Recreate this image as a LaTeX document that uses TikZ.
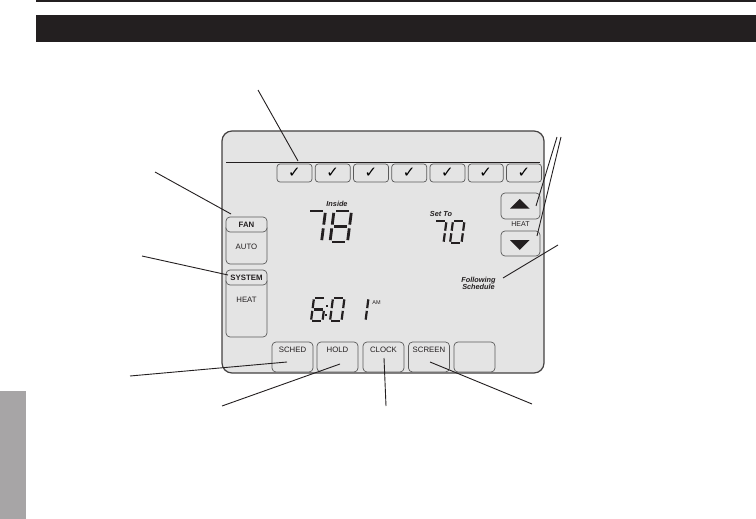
\documentclass[tikz,border=0pt]{standalone}
\usepackage{fontspec}
\setmainfont{Liberation Sans}
\newfontfamily\djv{DejaVu Sans}
\definecolor{ink}{HTML}{231F20}
\definecolor{scr}{HTML}{E4E4E4}
\definecolor{tab}{HTML}{A7A5A6}
\definecolor{edge}{HTML}{5A5A5A}
\tikzset{
  btn/.style={draw=edge, line width=0.7pt, rounded corners=4pt, fill=scr, inner sep=0pt},
  daybox/.style={btn, rounded corners=3pt, minimum width=35pt, minimum height=18pt, font=\djv\fontsize{15}{15}\selectfont},
  lbl/.style={inner sep=0pt, text=ink, font=\fontsize{7.8}{8}\selectfont},
  blbl/.style={lbl, font=\bfseries\fontsize{7.8}{8}\selectfont},
  ilbl/.style={lbl, font=\bfseries\itshape\fontsize{7.3}{8}\selectfont},
  leader/.style={draw=ink, line width=0.9pt},
  segline/.style={draw=ink, line cap=butt},
}
% unit segments: a b c d e f g
\def\digseven{0.12/1/0.88/1, 1/0.94/1/0.56, 1/0.44/1/0.06}
\def\digeight{0.12/1/0.88/1, 1/0.94/1/0.56, 1/0.44/1/0.06, 0.12/0/0.88/0, 0/0.44/0/0.06, 0/0.94/0/0.56, 0.12/0.5/0.88/0.5}
\def\digzero{0.12/1/0.88/1, 1/0.94/1/0.56, 1/0.44/1/0.06, 0.12/0/0.88/0, 0/0.44/0/0.06, 0/0.94/0/0.56}
\def\digsix{0.12/1/0.88/1, 1/0.44/1/0.06, 0.12/0/0.88/0, 0/0.44/0/0.06, 0/0.94/0/0.56, 0.12/0.5/0.88/0.5}
\def\digone{1/0.94/1/0.56, 1/0.44/1/0.06}
% #1 x of bottom-left, #2 y of bottom, #3 width, #4 height, #5 slant, #6 line width, #7 digit
\newcommand\sevseg[7]{%
  \begin{scope}[shift={(#1,#2)}, x={(#3pt,0pt)}, y={(#5pt,#4pt)}]
    \foreach \sa/\sb/\sc/\sd in #7 {\draw[segline, line width=#6] (\sa,\sb) -- (\sc,\sd);}
  \end{scope}}
\begin{document}
\begin{tikzpicture}[x=1pt,y=-1pt]
\useasboundingbox (0,0) rectangle (756,519);
% page header
\draw[ink, line width=1.2pt] (36,1) -- (756,1);
\fill[ink] (36,15) rectangle (756,42);
\fill[tab] (0,391) rectangle (26,519);
% screen
\node[draw=ink!85, line width=1.2pt, fill=scr, rounded corners=10pt, minimum width=322pt, minimum height=242pt, inner sep=0pt] (screen) at (383,252) {};
\draw[ink, line width=0.9pt] (226,162) -- (540,162);
% day boxes
\foreach \i in {0,...,6} {
  \node[daybox] (day\i) at ({294.5+38.25*\i},173) {\raisebox{0.5pt}{✓}};
}
% fan / system
\node[btn, minimum width=41pt, minimum height=40pt] (auto) at (246.5,244) {};
\node[btn, minimum width=41pt, minimum height=15pt] (fan) at (246.5,224.5) {};
\node[blbl] (fanlbl) at (fan.center) {FAN};
\node[lbl] (autolbl) at (246.5,247) {AUTO};
\node[btn, minimum width=41pt, minimum height=60pt] (heatbox) at (246.5,307) {};
\node[btn, minimum width=41pt, minimum height=15pt] (system) at (246.5,277.5) {};
\node[blbl] (systemlbl) at (system.center) {SYSTEM};
\node[lbl] (heatlbl) at (246.5,300) {HEAT};
% up/down
\node[btn, minimum width=39pt, minimum height=26pt] (up) at (520.5,206) {};
\node[btn, minimum width=39pt, minimum height=25pt] (down) at (520.5,243.5) {};
\fill[ink] (510,208.5) -- (529.5,208.5) -- (519.75,199) -- cycle;
\fill[ink] (510,240) -- (529.5,240) -- (519.75,250) -- cycle;
\node[lbl, font=\fontsize{7}{8}\selectfont] (heatmode) at (520.5,224.5) {HEAT};
% bottom buttons
\foreach \n/\cx/\t in {sched/292.5/SCHED, hold/337.5/HOLD, clock/383.5/CLOCK, scrn/429/SCREEN, blank/474.5/} {
  \node[btn, minimum width=41pt, minimum height=30pt] (\n) at (\cx,357) {};
  \node[lbl] (\n lbl) at (\cx,349.5) {\t};
}
% readouts
\node[ilbl] (inside) at (337,204) {Inside};
\sevseg{304}{242}{17.5}{31}{4}{2.8pt}{\digseven}
\sevseg{330}{242}{17.5}{31}{4}{2.8pt}{\digeight}
\node[ilbl] (setto) at (441,213.5) {Set To};
\sevseg{432}{243}{11.5}{22}{3}{2.2pt}{\digseven}
\sevseg{450}{243}{11.5}{22}{3}{2.2pt}{\digzero}
\sevseg{311}{321}{11.5}{23}{3}{2.2pt}{\digsix}
\fill[ink] (326.3,305) rectangle +(2,2);
\fill[ink] (324.8,314) rectangle +(2,2);
\sevseg{330}{321}{11.5}{23}{3}{2.2pt}{\digzero}
\sevseg{354}{321}{11.5}{23}{3}{2.2pt}{\digone}
\node[lbl, font=\fontsize{5.5}{5.5}\selectfont] (am) at (376.5,302.5) {AM};
\node[ilbl, align=center] (follow) at (478.5,283.5) {Following\\[-1.5pt]Schedule};
% leaders
\coordinate (pA) at (258,90);   \coordinate (eA) at (298,161);
\coordinate (pB1) at (557,137); \coordinate (eB1) at (536,206);
\coordinate (pB2) at (561,137); \coordinate (eB2) at (537,236);
\coordinate (pC) at (155,172);  \coordinate (eC) at (231,214);
\coordinate (pD) at (142,256);  \coordinate (eD) at (228,275);
\coordinate (pE) at (558,245);  \coordinate (eE) at (503,278);
\coordinate (pF) at (130,376);  \coordinate (eF) at (287,362);
\coordinate (pG) at (222,406);  \coordinate (eG) at (340,364);
\coordinate (pH) at (386,406);  \coordinate (eH) at (384,358);
\coordinate (pI) at (532,404);  \coordinate (eI) at (430,362);
\foreach \p in {A,B1,B2,C,D,E,F,G,H,I} {\draw[leader] (p\p) -- (e\p);}
\end{tikzpicture}
\end{document}
